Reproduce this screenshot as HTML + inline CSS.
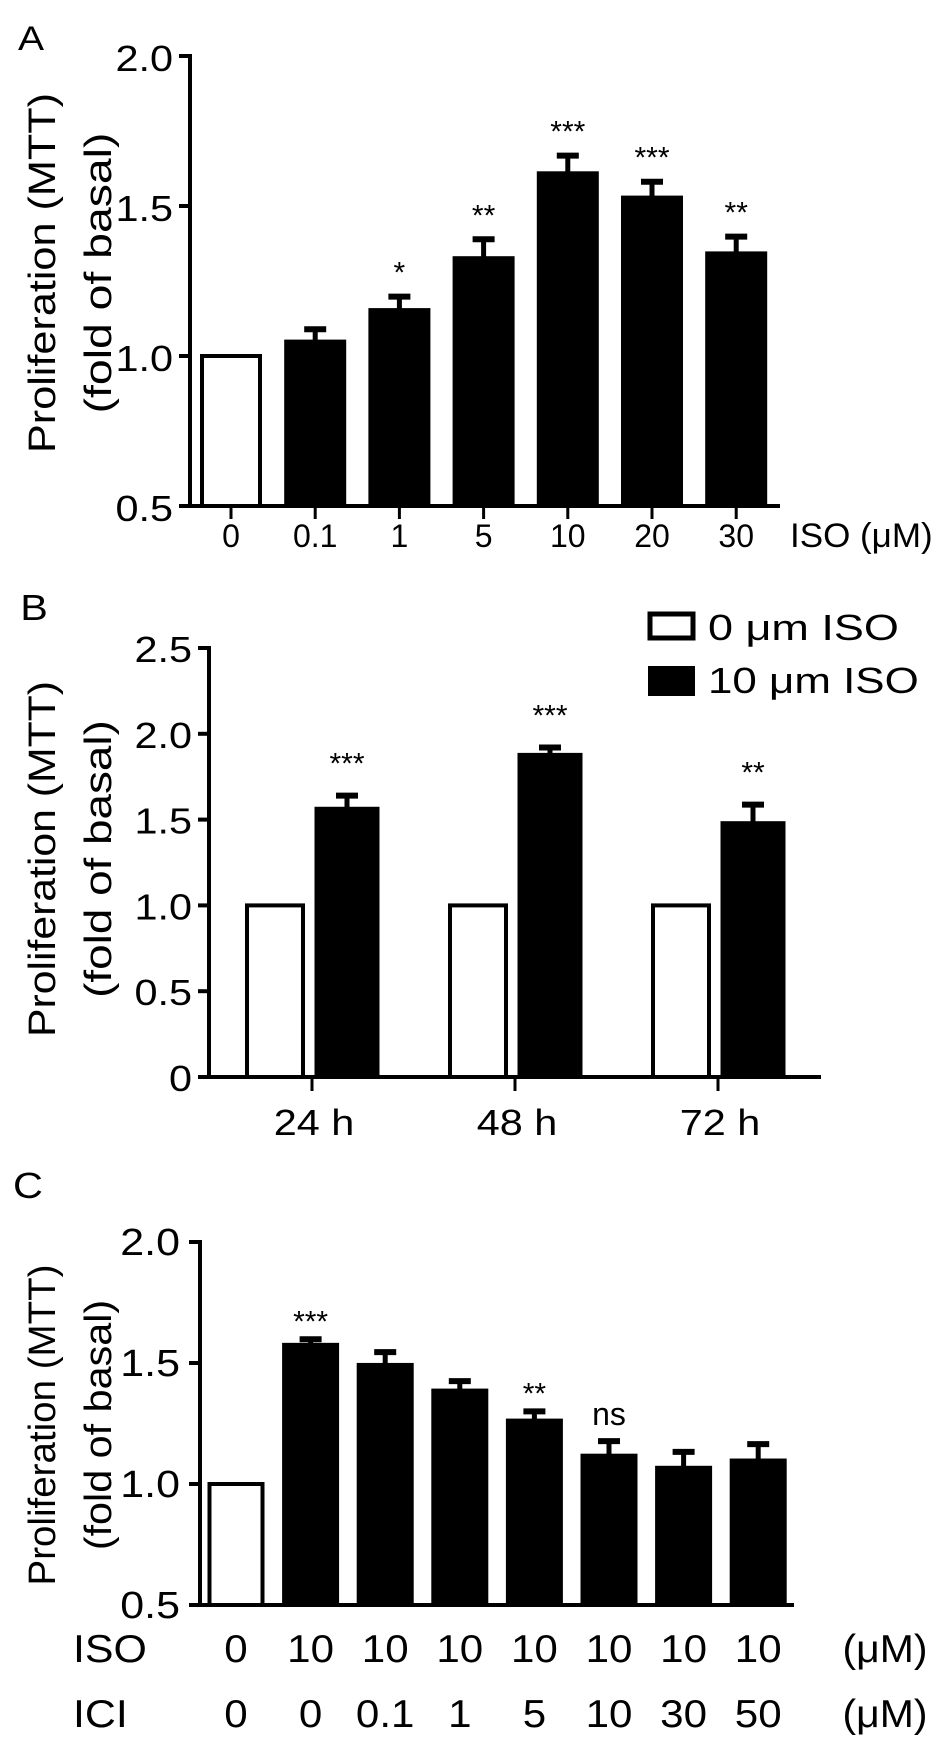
<!DOCTYPE html>
<html><head><meta charset="utf-8"><style>
html,body{margin:0;padding:0;background:#fff}
svg{display:block}
text{font-family:"Liberation Sans",Arial,sans-serif;fill:#000}
</style></head><body>
<svg id="fig" width="945" height="1748" viewBox="0 0 945 1748" xmlns="http://www.w3.org/2000/svg"></svg>
<script>
// Panel A data
const catsA = ["0","0.1","1","5","10","20","30"];
const valsA = [1.0,1.048,1.153,1.326,1.609,1.528,1.342];
const errA  = [0,0.041,0.045,0.063,0.059,0.053,0.056];
const sigA  = ["","","*","**","***","***","**"];
const ticksA = [0.5,1.0,1.5,2.0];
// Panel B data
const catsB = ["24 h","48 h","72 h"];
const ctrlB = [1.0,1.0,1.0];
const isoB  = [1.566,1.88,1.482];
const errB  = [0.074,0.04,0.105];
const sigB  = ["***","***","**"];
const ticksB = [0,0.5,1.0,1.5,2.0,2.5];
const tickLabB = ["0","0.5","1.0","1.5","2.0","2.5"];
// Panel C data
const isoC = ["0","10","10","10","10","10","10","10"];
const iciC = ["0","0","0.1","1","5","10","30","50"];
const valsC = [1.0,1.575,1.492,1.386,1.262,1.117,1.067,1.097];
const errC  = [0,0.023,0.053,0.039,0.038,0.06,0.066,0.068];
const sigC  = ["","***","","","**","ns","",""];
const ticksC = [0.5,1.0,1.5,2.0];

const NS="http://www.w3.org/2000/svg";
const svg=document.getElementById('fig');
function el(tag,attrs,parent){const e=document.createElementNS(NS,tag);for(const k in attrs)e.setAttribute(k,attrs[k]);(parent||svg).appendChild(e);return e;}
function txt(s,x,y,size,anchor,sx,parent){
  const t=el('text',{x:0,y:0,'font-size':size,'text-anchor':anchor||'middle',transform:`translate(${x},${y}) scale(${sx||1},1)`},parent);
  t.textContent=s;return t;
}
function line(x1,y1,x2,y2,w,parent){return el('line',{x1,y1,x2,y2,stroke:'#000','stroke-width':w||4},parent);}

function ytitle(g,cy,len){
  const a=txt("Proliferation (MTT)",0,0,38,'middle',1,g);
  a.setAttribute('transform',`translate(55,${cy}) rotate(-90)`);
  a.setAttribute('textLength',len);a.setAttribute('lengthAdjust','spacingAndGlyphs');
  
  
  const b=txt("(fold of basal)",0,0,38,'middle',1,g);
  b.setAttribute('transform',`translate(111,${cy}) rotate(-90)`);
  b.setAttribute('textLength',len*0.78);b.setAttribute('lengthAdjust','spacingAndGlyphs');
  
  
}
function errBar(g,cx,yTop,yErr,cap){
  line(cx,yTop,cx,yErr,5,g);
  line(cx-cap/2,yErr,cx+cap/2,yErr,6,g);
}

// ---------- Panel A ----------
{
const g=el('g',{});  
const y0=506, pxPer=300, vmin=0.5; const yA=v=>y0-(v-vmin)*pxPer;
const xA=i=>231+i*84.2; const bw=58;
const pl=txt("A",31,50,34,'middle',1.15,g);  
ytitle(g,273,360);
line(190,yA(2.0)-2,190,y0+2,4,g);
line(188,y0,780,y0,4,g);
ticksA.forEach(v=>{line(179,yA(v),190,yA(v),4,g);
  const t=txt(v.toFixed(1),173,yA(v)+15,36,'end',1.15,g);  });
catsA.forEach((c,i)=>{
  const cx=xA(i);
  const r=el('rect',{x:cx-bw/2,y:yA(valsA[i]),width:bw,height:y0-yA(valsA[i]),fill:i===0?'#fff':'#000',stroke:'#000','stroke-width':4},g);
   
  if(errA[i]>0) errBar(g,cx,yA(valsA[i]),yA(valsA[i]+errA[i]),22);
  if(sigA[i]){const s=txt(sigA[i],cx,yA(valsA[i]+errA[i])-14,30,'middle',1,g);  }
  line(cx,y0,cx,y0+13,3,g);
  const t=txt(c,cx,547,32,'middle',1,g);  
});
const u=txt("ISO (μM)",790,547,34,'start',1.03,g);  
}

// ---------- Panel B ----------
{
const g=el('g',{});  
const y0=1077, pxPer=171.6; const yB=v=>y0-v*pxPer;
const xB=i=>312+i*203; const bw=60;
const pl=txt("B",34,620,36,'middle',1.15,g);  
ytitle(g,859,356);
line(209,yB(2.5)-2,209,y0+2,4,g);
line(207,y0,821,y0,4,g);
ticksB.forEach((v,k)=>{line(198,yB(v),209,yB(v),4,g);
  const t=txt(tickLabB[k],192,yB(v)+14,36,'end',1.15,g);  });
catsB.forEach((c,i)=>{
  const cx=xB(i);
  const r1=el('rect',{x:cx-65,y:yB(ctrlB[i]),width:56,height:y0-yB(ctrlB[i]),fill:'#fff',stroke:'#000','stroke-width':4},g);
   
  const bx=cx+4, bcx=bx+31;
  const r2=el('rect',{x:bx,y:yB(isoB[i]),width:62,height:y0-yB(isoB[i]),fill:'#000',stroke:'#000','stroke-width':3},g);
   
  errBar(g,bcx,yB(isoB[i]),yB(isoB[i]+errB[i]),22);
  const s=txt(sigB[i],bcx,yB(isoB[i]+errB[i])-22,30,'middle',1,g);  
  line(cx,y0,cx,y0+14,3,g);
  const t=txt(c,cx+2,1135,36,'middle',1.15,g);  
});
const l1=el('rect',{x:650,y:614,width:43,height:24,fill:'#fff',stroke:'#000','stroke-width':5},g);
 
const t1=txt("0 μm ISO",708,640,36,'start',1.25,g);  
const l2=el('rect',{x:648,y:666,width:47,height:30,fill:'#000'},g);
 
const t2=txt("10 μm ISO",708,693,36,'start',1.22,g);  
}

// ---------- Panel C ----------
{
const g=el('g',{});  
const y0=1605, pxPer=242, vmin=0.5; const yC=v=>y0-(v-vmin)*pxPer;
const xC=i=>236+i*74.6; const bw=53;
const pl=txt("C",28,1198,36,'middle',1.15,g);  
ytitle(g,1425,321);
line(200,yC(2.0)-2,200,y0+2,4,g);
line(198,y0,794,y0,4,g);
ticksC.forEach(v=>{line(189,yC(v),200,yC(v),4,g);
  const t=txt(v.toFixed(1),180,yC(v)+13,38,'end',1.13,g);  });
valsC.forEach((v,i)=>{
  const cx=xC(i);
  const r=el('rect',{x:cx-bw/2,y:yC(v),width:bw,height:y0-yC(v),fill:i===0?'#fff':'#000',stroke:'#000','stroke-width':4},g);
   
  if(errC[i]>0) errBar(g,cx,yC(v),yC(v+errC[i]),22);
  if(sigC[i]){const s=txt(sigC[i],cx,yC(v+errC[i])-(sigC[i]==='ns'?16:8),sigC[i]==='ns'?32:30,'middle',1,g);  }
  const a=txt(isoC[i],cx,1662,39,'middle',1.08,g);  
  const b=txt(iciC[i],cx,1727,39,'middle',1.08,g);  
});
const r1=txt("ISO",73,1662,39,'start',1.1,g);  
const r2=txt("ICI",73,1727,39,'start',1.1,g);  
const u1=txt("(μM)",885,1662,39,'middle',1.05,g);  
const u2=txt("(μM)",885,1727,39,'middle',1.05,g);  
}
</script>
</body></html>
